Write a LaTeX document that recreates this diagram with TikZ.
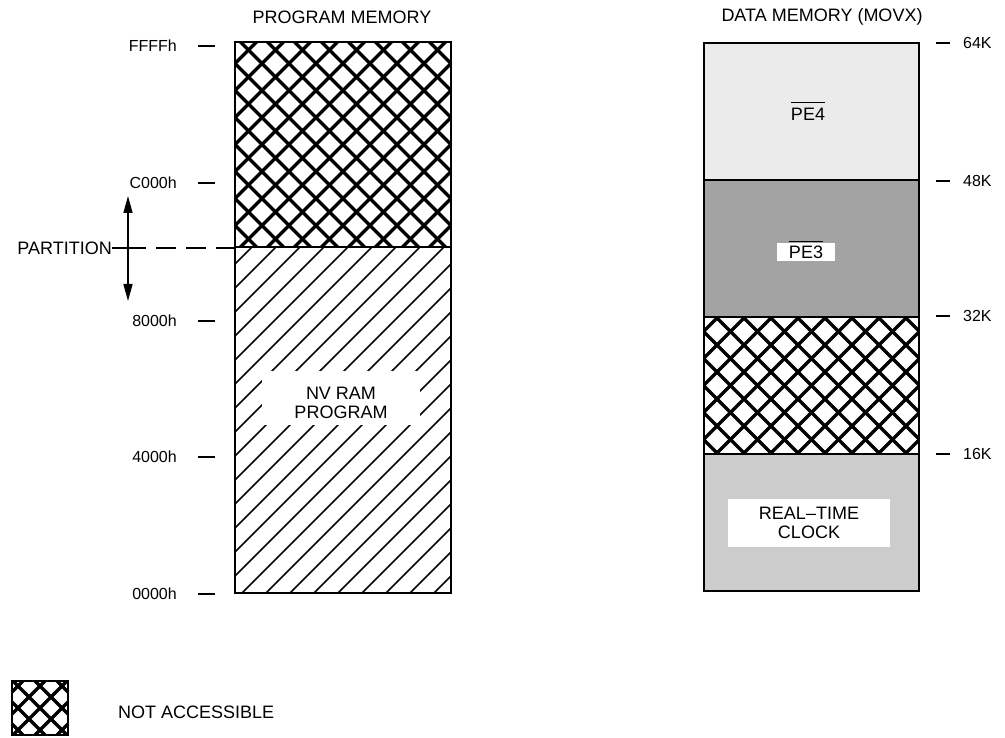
\documentclass[tikz,border=0pt]{standalone}
\usepackage{fontspec}
\setmainfont{Liberation Sans}
\usetikzlibrary{arrows.meta,positioning}
\definecolor{peIV}{gray}{0.92}
\definecolor{peIII}{gray}{0.64}
\definecolor{rtcg}{gray}{0.80}
\tikzset{
  memtxt/.style={font=\fontsize{18}{19}\selectfont, inner sep=1pt, align=center},
  addr/.style={font=\fontsize{16}{18}\selectfont, inner sep=0pt},
  tick/.style={line width=1.3pt},
  membox/.style={draw=black, line width=1.8pt},
  split/.style={line width=1.3pt},
  xline/.style={line width=3.4pt},
  hline/.style={line width=1.6pt},
  blank/.style={fill=white, inner sep=0pt},
  bar/.style={line width=1.4pt},
  updown/.style={{Triangle[length=17pt,width=9pt]}-{Triangle[length=17pt,width=9pt]}, line width=1.6pt},
}
% crosshatch clipped to the box (#1,#2)-(#3,#4), spacing #5
\newcommand{\xhatch}[5]{%
  \begin{scope}
    \clip (#1,#2) rectangle (#3,#4);
    \foreach \i in {-25,...,25}{
      \draw[xline] ({(#1+#3)/2+\i*#5-400},{(#2+#4)/2-400}) -- ++(800,800);
      \draw[xline] ({(#1+#3)/2+\i*#5-400},{(#2+#4)/2+400}) -- ++(800,-800);}
  \end{scope}}
% single hatch, rising to the right
\newcommand{\shatch}[5]{%
  \begin{scope}
    \clip (#1,#2) rectangle (#3,#4);
    \foreach \i in {-25,...,25}
      \draw[hline] ({(#1+#3)/2+\i*#5-400},{(#2+#4)/2+400}) -- ++(800,-800);
  \end{scope}}

\begin{document}
\begin{tikzpicture}[x=1pt, y=-1pt]
  \useasboundingbox (0,0) rectangle (1005,738);
  % titles
  \node[memtxt] (ptitle) at (342,17) {PROGRAM MEMORY};
  \node[memtxt] (dtitle) at (822,17) {DATA MEMORY (MOVX)};

  % program memory: not accessible above partition, NV RAM below
  \xhatch{235}{42}{451}{247}{27}
  \shatch{235}{247}{451}{593}{24}
  \draw[split] (235,247) -- (451,247);
  \node[blank, minimum width=158pt, minimum height=54pt] (nvbg) at (341,398) {};
  \node[memtxt] (nvram) at (341,403) {NV RAM\\PROGRAM};
  \draw[membox] (235,42) rectangle (451,593);

  % address ticks
  \foreach \nm/\t/\yy in {ffff/FFFFh/46, c000/C000h/183, a8000/8000h/321, a4000/4000h/457, a0000/0000h/594}{
    \node[addr, anchor=east] (\nm) at (177,\yy) {\t};
    \draw[tick] ([xshift=21pt]\nm.east) -- ++(17,0);
  }

  % partition
  \node[memtxt, anchor=east, inner sep=0pt] (part) at (112,248) {PARTITION};
  \coordinate (pup) at (128,196);
  \coordinate (pdn) at (128,301);
  \coordinate (pcut) at (235,248);
  \draw[updown] (pup) -- (pdn);
  \draw[tick] (part.east) -- ++(34,0) coordinate (pdash);
  \draw[tick, dash pattern=on 20pt off 10pt] ([xshift=10pt]pdash) -- (pcut);

  % data memory
  \fill[peIV] (704,43) rectangle (919,180);
  \fill[peIII] (704,180) rectangle (919,317);
  \xhatch{704}{317}{919}{454}{27}
  \fill[rtcg] (704,454) rectangle (919,591);
  \foreach \yy in {180,317,454}
    \draw[split] (704,\yy) -- (919,\yy);
  \draw[membox] (704,43) rectangle (919,591);

  \node[memtxt, inner sep=0pt] (pe4) at (808,114) {PE4};
  \draw[bar] ([yshift=5pt]pe4.north west) -- ([yshift=5pt]pe4.north east);
  \node[blank, minimum width=58pt, minimum height=18pt] (pe3bg) at (806,252) {};
  \node[memtxt, inner sep=0pt] (pe3) at (pe3bg) {PE3};
  \draw[bar] ([yshift=4pt]pe3.north west) -- ([yshift=4pt]pe3.north east);
  \node[blank, minimum width=162pt, minimum height=48pt] (rtcbg) at (809,523) {};
  \node[memtxt] (rtc) at (rtcbg) {REAL--TIME\\CLOCK};

  \foreach \nm/\t/\yy in {k64/64K/43, k48/48K/181, k32/32K/316, k16/16K/454}{
    \node[addr, anchor=west] (\nm) at (963,\yy) {\t};
    \draw[tick] ([xshift=-13pt]\nm.west) -- ++(-14,0);
  }

  % legend
  \xhatch{12}{681}{68}{735}{22}
  \draw[membox] (12,681) rectangle (68,735);
  \node[memtxt, anchor=west] (nacc) at (117,712) {NOT ACCESSIBLE};
\end{tikzpicture}
\end{document}
